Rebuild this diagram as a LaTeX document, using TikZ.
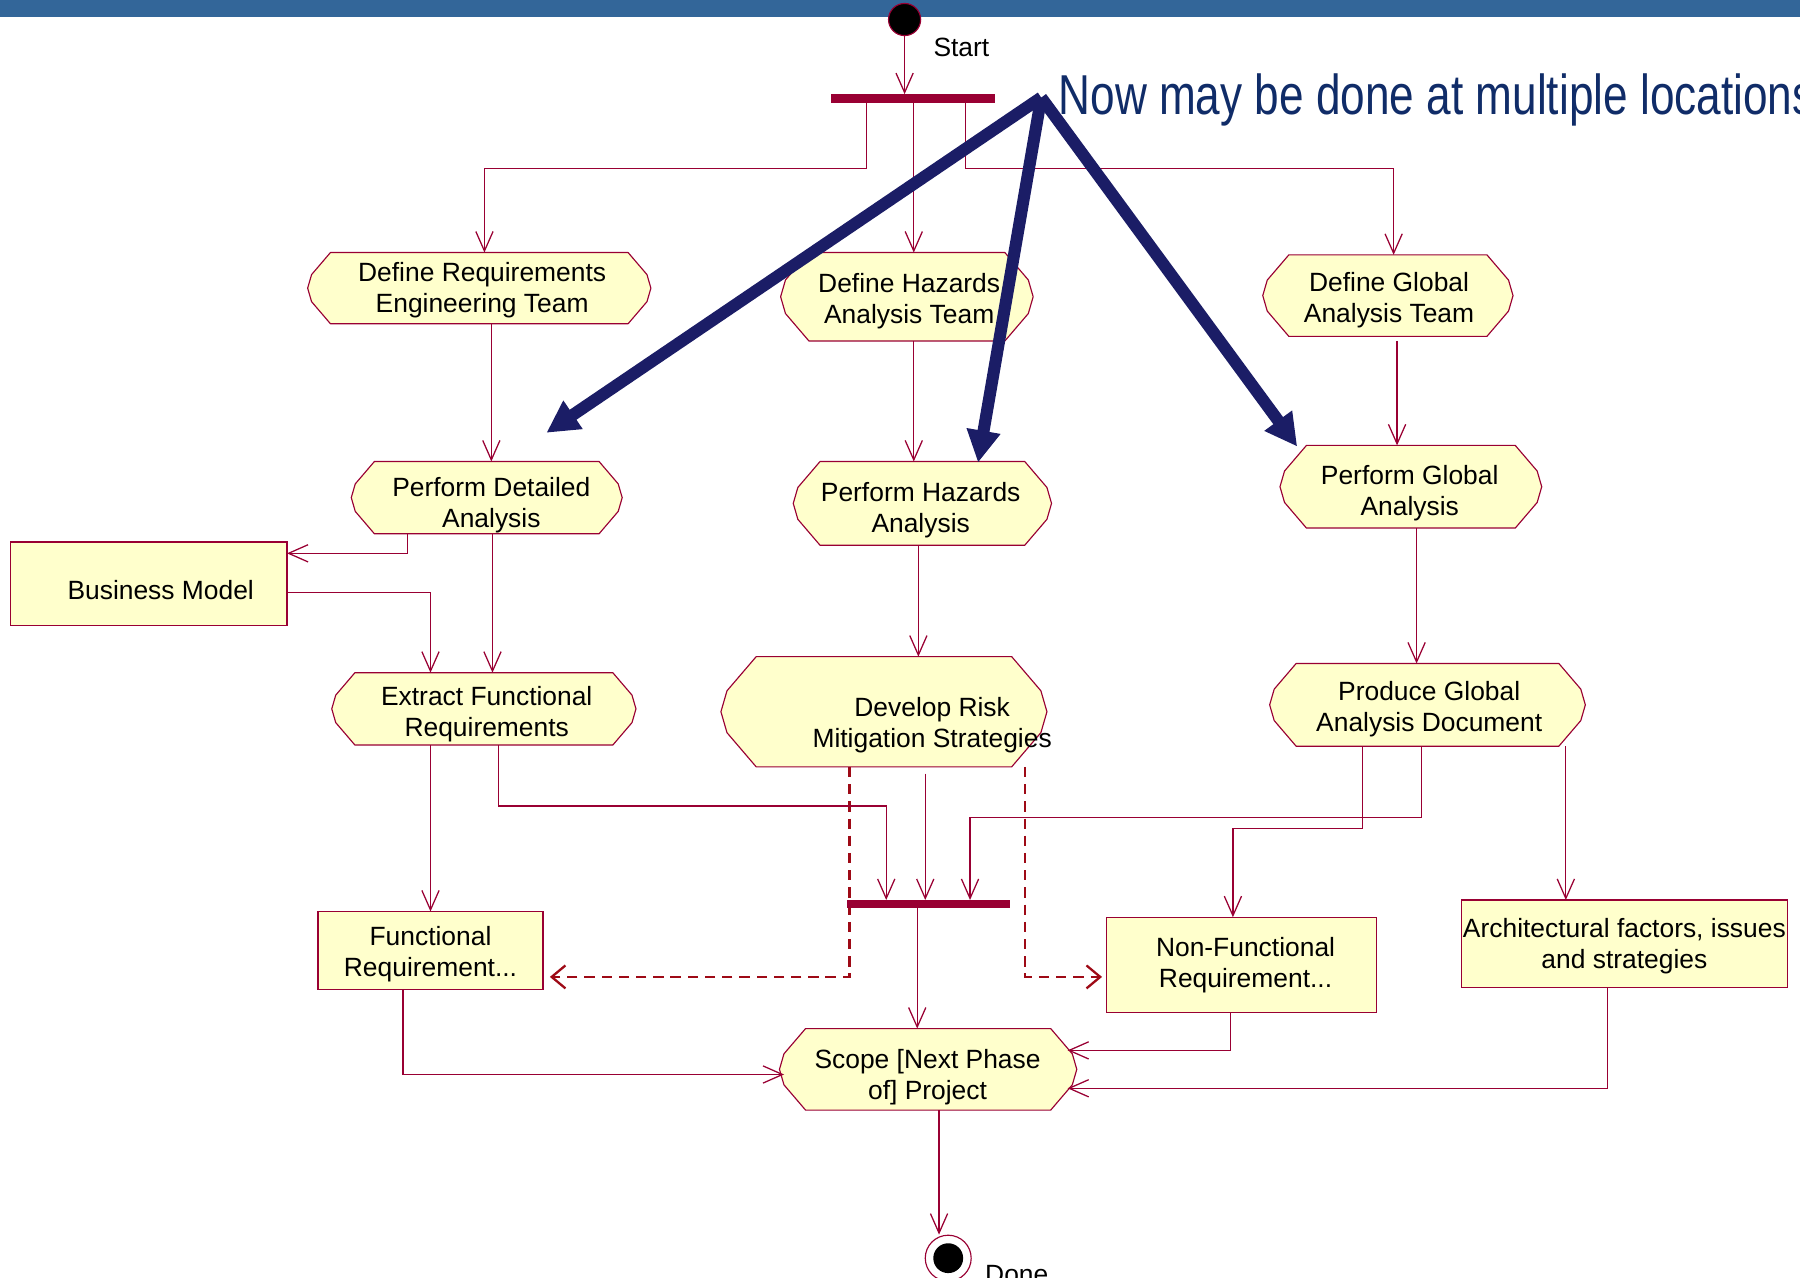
\documentclass[tikz,border=0pt]{standalone}
\usepackage{fontspec}
\setmainfont{Liberation Sans}
\usetikzlibrary{arrows.meta}

\definecolor{uml}{HTML}{990033}
\definecolor{umlfill}{HTML}{FFFFCC}
\definecolor{dashred}{HTML}{9E0A16}
\definecolor{band}{HTML}{336699}
\definecolor{navyarrow}{HTML}{1B1D66}
\definecolor{navytext}{HTML}{102C68}

\pgfdeclarelayer{back}
\pgfsetlayers{back,main}

\tikzset{
  actshape/.style={draw=uml, fill=umlfill, line width=1pt, line join=round},
  frame/.style={rectangle, draw=none, inner sep=0pt, outer sep=0pt},
  objbox/.style={rectangle, draw=uml, fill=umlfill, line width=1.2pt, inner sep=0pt, outer sep=0pt},
  lbl/.style={font=\fontsize{23}{27}\selectfont, align=center, inner sep=0pt, text=black},
  syncbar/.style={rectangle, fill=uml, draw=none, inner sep=0pt, outer sep=0pt},
  flow/.style={draw=uml, line width=1.1pt, -{Straight Barb[length=17pt,width=15pt]}},
  depend/.style={draw=dashred, line width=2pt, dash pattern=on 9pt off 6pt,
                 -{Straight Barb[length=12pt,width=20pt]}},
  callout/.style={draw=navyarrow, line width=10.5pt, -{Triangle[length=28pt,width=28pt]}},
}

% activity state: flat top and bottom, faceted rounded ends
% #1 name, #2 left, #3 top, #4 right, #5 bottom
\newcommand{\activity}[5]{%
  \pgfmathsetmacro\actH{#5-#3}%
  \pgfmathsetmacro\actC{0.32*\actH}%
  \pgfmathsetmacro\actD{0.055*\actH}%
  \pgfmathsetmacro\actQ{0.31*\actH}%
  \pgfmathsetmacro\actM{(#3+#5)/2}%
  \pgfmathsetmacro\actW{#4-#2}%
  \pgfmathsetmacro\actX{(#2+#4)/2}%
  \filldraw[actshape] (#2+\actC,#3) -- (#4-\actC,#3) -- (#4-\actD,#3+\actQ) -- (#4,\actM)
     -- (#4-\actD,#5-\actQ) -- (#4-\actC,#5) -- (#2+\actC,#5) -- (#2+\actD,#5-\actQ)
     -- (#2,\actM) -- (#2+\actD,#3+\actQ) -- cycle;
  \node[frame, minimum width=\actW, minimum height=\actH] (#1) at (\actX,\actM) {};
}

\begin{document}
\begin{tikzpicture}[x=1pt, y=-1pt]
\useasboundingbox (0,0) rectangle (1568,1113);
\clip (0,0) rectangle (1568,1113);

% title band
\fill[band] (0,0) rectangle (1568,15);

% activity states
\activity{defreq}{268}{220}{567}{282}
\activity{defhaz}{680}{220}{900}{297}
\activity{defglob}{1100}{222}{1318}{293}
\activity{perfdet}{306}{402}{542}{465}
\activity{perfhaz}{691}{402}{916}{475}
\activity{perfglob}{1115}{388}{1343}{460}
\activity{extract}{289}{586}{554}{649}
\activity{devrisk}{628}{572}{912}{668}
\activity{prodglob}{1106}{578}{1381}{650}
\activity{scope}{679}{896}{938}{967}

% object boxes
\node[objbox, minimum width=241, minimum height=73] (bizmodel) at (129.5,508.5) {};
\node[objbox, minimum width=196, minimum height=68] (funcreq) at (375,828) {};
\node[objbox, minimum width=235, minimum height=83] (nonfunc) at (1081.5,840.5) {};
\node[objbox, minimum width=284, minimum height=76] (arch) at (1415,822) {};

% labels
\node[lbl] (defreq-txt) at (420,252.5) {Define Requirements\\Engineering Team};
\node[lbl] (defhaz-txt) at (792,262.5) {Define Hazards\\Analysis Team};
\node[lbl] (defglob-txt) at (1210,261.5) {Define Global\\Analysis Team};
\node[lbl] (perfdet-txt) at (428,440) {Perform Detailed\\Analysis};
\node[lbl] (perfhaz-txt) at (802,444.5) {Perform Hazards\\Analysis};
\node[lbl] (perfglob-txt) at (1228,429.5) {Perform Global\\Analysis};
\node[lbl] (extract-txt) at (424,622.5) {Extract Functional\\Requirements};
\node[lbl] (devrisk-txt) at (812,631.5) {Develop Risk\\Mitigation Strategies};
\node[lbl] (prodglob-txt) at (1245,617.5) {Produce Global\\Analysis Document};
\node[lbl] (scope-txt) at (808,938.5) {Scope [Next Phase\\of] Project};
\node[lbl] (bizmodel-txt) at (140,514) {Business Model};
\node[lbl] (funcreq-txt) at (375,831.5) {Functional\\Requirement...};
\node[lbl] (nonfunc-txt) at (1085,840.5) {Non-Functional\\Requirement...};
\node[lbl] (arch-txt) at (1415,824.5) {Architectural factors, issues\\and strategies};

% synchronisation bars
\node[syncbar, minimum width=143, minimum height=8] (bar1) at (795.5,86) {};
\node[syncbar, minimum width=142, minimum height=7] (bar2) at (809,787.5) {};

% initial and final states
\node[circle, fill=black, draw=uml, line width=1pt, minimum size=28, inner sep=0pt] (start) at (788,17) {};
\node[lbl, anchor=base west] (start-txt) at (813,49) {Start};
\node[circle, fill=white, draw=uml, line width=1pt, minimum size=40, inner sep=0pt] (done) at (826,1096) {};
\node[circle, fill=black, minimum size=26, inner sep=0pt] (done-core) at (done.center) {};
\node[lbl, anchor=base west] (done-txt) at (858,1118) {Done};

% control flows
\draw[flow] (start.south) -- (bar1.north -| start.south);
\draw[flow] (bar1.south -| 755,0) -- (755,147) -- (422,147) -- (defreq.north -| 422,0);
\draw[flow] (bar1.south -| 796,0) -- (defhaz.north -| 796,0);
\draw[flow] (bar1.south -| 841,0) -- (841,147) -- (1214,147) -- (defglob.north -| 1214,0);
\draw[flow] (defreq.south -| 428,0) -- (perfdet.north -| 428,0);
\draw[flow] (defhaz.south -| 796,0) -- (perfhaz.north -| 796,0);
\draw[flow] ([yshift=-4]defglob.south -| 1217,0) -- (perfglob.north -| 1217,0);
\draw[flow] (perfdet.south -| 355,0) |- (bizmodel.east |- 0,482);
\draw[flow] (perfdet.south -| 429,0) -- (extract.north -| 429,0);
\draw[flow] (bizmodel.east |- 0,516) -| (extract.north -| 375,0);
\draw[flow] (perfhaz.south -| 800,0) -- (devrisk.north -| 800,0);
\draw[flow] (perfglob.south -| 1234,0) -- (prodglob.north -| 1234,0);
\draw[flow] (extract.south -| 375,0) -- (funcreq.north -| 375,0);
\draw[flow] (extract.south -| 434,0) -- (434,702) -| (bar2.north -| 772,0);
\draw[flow] ([yshift=-6]devrisk.south -| 806,0) -- (bar2.north -| 806,0);
\draw[flow] (prodglob.south -| 1238,0) -- (1238,712) -| (bar2.north -| 845,0);
\draw[flow] (prodglob.south -| 1187,0) -- (1187,722) -| (nonfunc.north -| 1074,0);
\draw[flow] (prodglob.south -| 1364,0) -- (arch.north -| 1364,0);
\draw[flow] (bar2.south -| 799,0) -- (scope.north -| 799,0);
\draw[flow] (funcreq.south -| 351,0) |- ([xshift=4]scope.west |- 0,936);
\draw[flow] (nonfunc.south -| 1072,0) |- ([xshift=-8]scope.east |- 0,915);
\draw[flow] (arch.south -| 1400,0) |- ([xshift=-8]scope.east |- 0,948);
\draw[flow] (scope.south -| 818,0) -- (done.north -| 818,0);

% object flows (dashed)
\begin{pgfonlayer}{back}
\draw[depend] (devrisk.south -| 740,0) -- (740,851) -- ([xshift=6]funcreq.east |- 0,851);
\draw[depend] (devrisk.south -| 893,0) -- (893,851) -- ([xshift=-4]nonfunc.west |- 0,851);
\end{pgfonlayer}

% annotation
\coordinate (apex) at (907,85);
\coordinate (tipL) at (476,377);
\coordinate (tipM) at (852,403);
\coordinate (tipR) at (1130,389);
\draw[callout] (apex) -- (tipL);
\draw[callout] (apex) -- (tipM);
\draw[callout] (apex) -- (tipR);
\node[anchor=base west, inner sep=0pt, text=navytext, font=\fontsize{49}{55}\selectfont] (note)
  at (922,99.5) {\scalebox{0.785}[1]{Now may be done at multiple locations}};
\end{tikzpicture}
\end{document}
